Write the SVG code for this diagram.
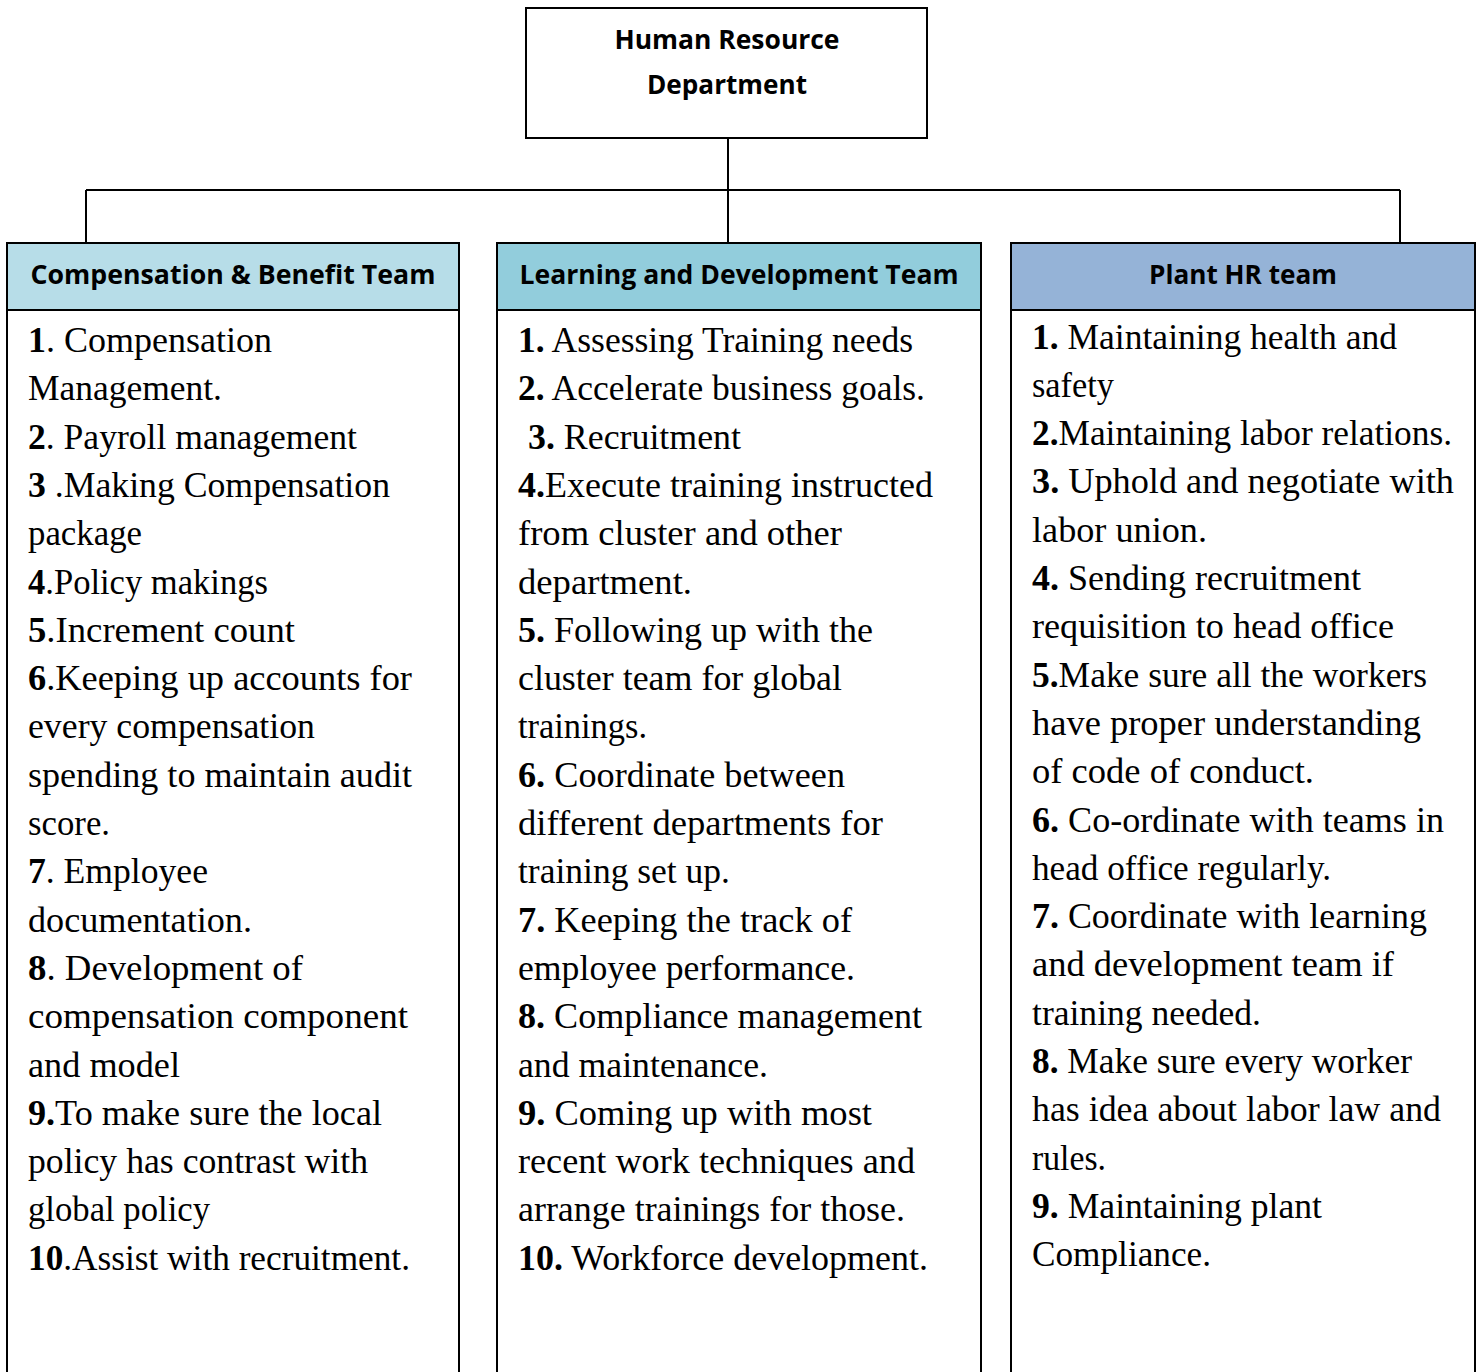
<svg xmlns="http://www.w3.org/2000/svg" width="1481" height="1372" viewBox="0 0 1481 1372">
<style>
.box{fill:#fff;stroke:#000;stroke-width:2}
.hdr{stroke:#000;stroke-width:2}
.conn{stroke:#000;stroke-width:2;fill:none}
.ttl{font-family:"Open Sans","Liberation Sans",sans-serif;font-weight:bold;font-size:27px;fill:#000;text-anchor:middle}
.b{font-family:"Liberation Serif","DejaVu Serif",serif;font-size:35px;fill:#000}
.n{font-weight:bold}
</style>
<rect width="1481" height="1372" fill="#fff"/>
<g id="connectors">
<path class="conn" d="M728 138V243M86 190H1400M86 190V243M1400 190V243"/>
</g>
<g id="hr-dept">
<rect class="box" x="526" y="8" width="401" height="130"/>
<text class="ttl" x="727" y="49" textLength="225" lengthAdjust="spacingAndGlyphs">Human Resource</text>
<text class="ttl" x="727" y="94" textLength="160" lengthAdjust="spacingAndGlyphs">Department</text>
</g>
<g id="comp-benefit">
<rect class="box" x="7" y="243" width="452" height="1140"/>
<rect class="hdr" x="7" y="243" width="452" height="67" fill="#B7DDE8"/>
<text class="ttl" x="233" y="284" textLength="405" lengthAdjust="spacingAndGlyphs">Compensation &amp; Benefit Team</text>
<g class="b">
<text x="28" y="352" textLength="244" lengthAdjust="spacingAndGlyphs"><tspan class="n">1</tspan>. Compensation</text>
<text x="28" y="400.3" textLength="194" lengthAdjust="spacingAndGlyphs">Management.</text>
<text x="28" y="448.6" textLength="329" lengthAdjust="spacingAndGlyphs"><tspan class="n">2</tspan>. Payroll management</text>
<text x="28" y="496.9" textLength="362" lengthAdjust="spacingAndGlyphs"><tspan class="n">3</tspan> .Making Compensation</text>
<text x="28" y="545.2" textLength="114" lengthAdjust="spacingAndGlyphs">package</text>
<text x="28" y="593.5" textLength="240" lengthAdjust="spacingAndGlyphs"><tspan class="n">4</tspan>.Policy makings</text>
<text x="28" y="641.8" textLength="267" lengthAdjust="spacingAndGlyphs"><tspan class="n">5</tspan>.Increment count</text>
<text x="28" y="690.1" textLength="384" lengthAdjust="spacingAndGlyphs"><tspan class="n">6</tspan>.Keeping up accounts for</text>
<text x="28" y="738.4" textLength="287" lengthAdjust="spacingAndGlyphs">every compensation</text>
<text x="28" y="786.7" textLength="384" lengthAdjust="spacingAndGlyphs">spending to maintain audit</text>
<text x="28" y="835" textLength="82" lengthAdjust="spacingAndGlyphs">score.</text>
<text x="28" y="883.3" textLength="180" lengthAdjust="spacingAndGlyphs"><tspan class="n">7</tspan>. Employee</text>
<text x="28" y="931.6" textLength="224" lengthAdjust="spacingAndGlyphs">documentation.</text>
<text x="28" y="979.9" textLength="275" lengthAdjust="spacingAndGlyphs"><tspan class="n">8</tspan>. Development of</text>
<text x="28" y="1028.2" textLength="380" lengthAdjust="spacingAndGlyphs">compensation component</text>
<text x="28" y="1076.5" textLength="152" lengthAdjust="spacingAndGlyphs">and model</text>
<text x="28" y="1124.8" textLength="354" lengthAdjust="spacingAndGlyphs"><tspan class="n">9.</tspan>To make sure the local</text>
<text x="28" y="1173.1" textLength="340" lengthAdjust="spacingAndGlyphs">policy has contrast with</text>
<text x="28" y="1221.4" textLength="182" lengthAdjust="spacingAndGlyphs">global policy</text>
<text x="28" y="1269.7" textLength="382" lengthAdjust="spacingAndGlyphs"><tspan class="n">10</tspan>.Assist with recruitment.</text>
</g>
</g>
<g id="learning-dev">
<rect class="box" x="497" y="243" width="484" height="1140"/>
<rect class="hdr" x="497" y="243" width="484" height="67" fill="#92CDDC"/>
<text class="ttl" x="739" y="284" textLength="439" lengthAdjust="spacingAndGlyphs">Learning and Development Team</text>
<g class="b">
<text x="518" y="352" textLength="395" lengthAdjust="spacingAndGlyphs"><tspan class="n">1.</tspan> Assessing Training needs</text>
<text x="518" y="400.3" textLength="407" lengthAdjust="spacingAndGlyphs"><tspan class="n">2.</tspan> Accelerate business goals.</text>
<text x="528" y="448.6" textLength="213" lengthAdjust="spacingAndGlyphs"><tspan class="n">3.</tspan> Recruitment</text>
<text x="518" y="496.9" textLength="415" lengthAdjust="spacingAndGlyphs"><tspan class="n">4.</tspan>Execute training instructed</text>
<text x="518" y="545.2" textLength="324" lengthAdjust="spacingAndGlyphs">from cluster and other</text>
<text x="518" y="593.5" textLength="174" lengthAdjust="spacingAndGlyphs">department.</text>
<text x="518" y="641.8" textLength="355" lengthAdjust="spacingAndGlyphs"><tspan class="n">5.</tspan> Following up with the</text>
<text x="518" y="690.1" textLength="324" lengthAdjust="spacingAndGlyphs">cluster team for global</text>
<text x="518" y="738.4" textLength="129" lengthAdjust="spacingAndGlyphs">trainings.</text>
<text x="518" y="786.7" textLength="327" lengthAdjust="spacingAndGlyphs"><tspan class="n">6.</tspan> Coordinate between</text>
<text x="518" y="835" textLength="365" lengthAdjust="spacingAndGlyphs">different departments for</text>
<text x="518" y="883.3" textLength="212" lengthAdjust="spacingAndGlyphs">training set up.</text>
<text x="518" y="931.6" textLength="334" lengthAdjust="spacingAndGlyphs"><tspan class="n">7.</tspan> Keeping the track of</text>
<text x="518" y="979.9" textLength="337" lengthAdjust="spacingAndGlyphs">employee performance.</text>
<text x="518" y="1028.2" textLength="404" lengthAdjust="spacingAndGlyphs"><tspan class="n">8.</tspan> Compliance management</text>
<text x="518" y="1076.5" textLength="250" lengthAdjust="spacingAndGlyphs">and maintenance.</text>
<text x="518" y="1124.8" textLength="354" lengthAdjust="spacingAndGlyphs"><tspan class="n">9.</tspan> Coming up with most</text>
<text x="518" y="1173.1" textLength="397" lengthAdjust="spacingAndGlyphs">recent work techniques and</text>
<text x="518" y="1221.4" textLength="387" lengthAdjust="spacingAndGlyphs">arrange trainings for those.</text>
<text x="518" y="1269.7" textLength="410" lengthAdjust="spacingAndGlyphs"><tspan class="n">10.</tspan> Workforce development.</text>
</g>
</g>
<g id="plant-hr">
<rect class="box" x="1011" y="243" width="464" height="1140"/>
<rect class="hdr" x="1011" y="243" width="464" height="67" fill="#95B3D7"/>
<text class="ttl" x="1243" y="284" textLength="188" lengthAdjust="spacingAndGlyphs">Plant HR team</text>
<g class="b">
<text x="1032" y="348.5" textLength="365" lengthAdjust="spacingAndGlyphs"><tspan class="n">1.</tspan> Maintaining health and</text>
<text x="1032" y="396.8" textLength="82" lengthAdjust="spacingAndGlyphs">safety</text>
<text x="1032" y="445.1" textLength="420" lengthAdjust="spacingAndGlyphs"><tspan class="n">2.</tspan>Maintaining labor relations.</text>
<text x="1032" y="493.4" textLength="422" lengthAdjust="spacingAndGlyphs"><tspan class="n">3.</tspan> Uphold and negotiate with</text>
<text x="1032" y="541.7" textLength="175" lengthAdjust="spacingAndGlyphs">labor union.</text>
<text x="1032" y="590" textLength="329" lengthAdjust="spacingAndGlyphs"><tspan class="n">4.</tspan> Sending recruitment</text>
<text x="1032" y="638.3" textLength="362" lengthAdjust="spacingAndGlyphs">requisition to head office</text>
<text x="1032" y="686.6" textLength="395" lengthAdjust="spacingAndGlyphs"><tspan class="n">5.</tspan>Make sure all the workers</text>
<text x="1032" y="734.9" textLength="389" lengthAdjust="spacingAndGlyphs">have proper understanding</text>
<text x="1032" y="783.2" textLength="282" lengthAdjust="spacingAndGlyphs">of code of conduct.</text>
<text x="1032" y="831.5" textLength="412" lengthAdjust="spacingAndGlyphs"><tspan class="n">6.</tspan> Co-ordinate with teams in</text>
<text x="1032" y="879.8" textLength="299" lengthAdjust="spacingAndGlyphs">head office regularly.</text>
<text x="1032" y="928.1" textLength="395" lengthAdjust="spacingAndGlyphs"><tspan class="n">7.</tspan> Coordinate with learning</text>
<text x="1032" y="976.4" textLength="362" lengthAdjust="spacingAndGlyphs">and development team if</text>
<text x="1032" y="1024.7" textLength="229" lengthAdjust="spacingAndGlyphs">training needed.</text>
<text x="1032" y="1073" textLength="380" lengthAdjust="spacingAndGlyphs"><tspan class="n">8.</tspan> Make sure every worker</text>
<text x="1032" y="1121.3" textLength="409" lengthAdjust="spacingAndGlyphs">has idea about labor law and</text>
<text x="1032" y="1169.6" textLength="74" lengthAdjust="spacingAndGlyphs">rules.</text>
<text x="1032" y="1217.9" textLength="290" lengthAdjust="spacingAndGlyphs"><tspan class="n">9.</tspan> Maintaining plant</text>
<text x="1032" y="1266.2" textLength="179" lengthAdjust="spacingAndGlyphs">Compliance.</text>
</g>
</g>
</svg>
